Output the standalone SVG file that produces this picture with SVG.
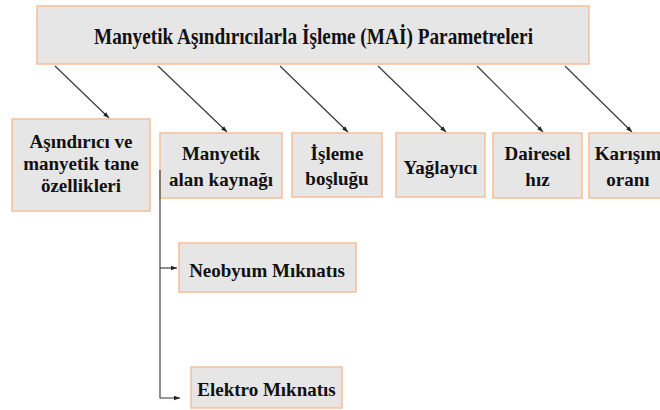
<svg xmlns="http://www.w3.org/2000/svg" width="660" height="410" viewBox="0 0 660 410">
<style>
.box{fill:#e6e6e6;stroke:#f5bf99;stroke-width:1.5}
.t{font-family:'Liberation Serif','DejaVu Serif','Times New Roman',serif;font-weight:700;font-size:19px;fill:#111;text-anchor:middle}
.c{stroke:#333;stroke-width:1.1;fill:none}
</style>
<defs>
<marker id="ah" viewBox="0 0 8 6" refX="8" refY="3" markerWidth="6" markerHeight="5" markerUnits="userSpaceOnUse" orient="auto">
<path d="M0,0 L8,3 L0,6 z" fill="#222"/>
</marker>
</defs>
<rect x="0" y="0" width="660" height="410" fill="#fff"/>
<g id="connectors">
<line class="c" x1="55" y1="66" x2="109" y2="118" marker-end="url(#ah)"/>
<line class="c" x1="158" y1="66" x2="227" y2="132" marker-end="url(#ah)"/>
<line class="c" x1="280" y1="66" x2="348" y2="132" marker-end="url(#ah)"/>
<line class="c" x1="378" y1="66" x2="446" y2="132" marker-end="url(#ah)"/>
<line class="c" x1="477" y1="66" x2="543" y2="132" marker-end="url(#ah)"/>
<line class="c" x1="565" y1="66" x2="632" y2="132" marker-end="url(#ah)"/>
</g>
<g id="root">
<rect class="box" x="37" y="6" width="552" height="58"/>
<text class="t" x="313.5" y="44" font-family="Liberation Serif, serif" style="font-size:23px" textLength="439" lengthAdjust="spacingAndGlyphs">Manyetik Aşındırıcılarla İşleme (MAİ) Parametreleri</text>
</g>
<g id="n1">
<rect class="box" x="12" y="119" width="138" height="92"/>
<text class="t" x="81" y="147.5">Aşındırıcı ve</text>
<text class="t" x="81" y="169.5">manyetik tane</text>
<text class="t" x="81" y="191.5">özellikleri</text>
</g>
<g id="n2">
<rect class="box" x="160" y="133" width="122" height="65"/>
<text class="t" x="221" y="160">Manyetik</text>
<text class="t" x="221" y="186">alan kaynağı</text>
</g>
<g id="n3">
<rect class="box" x="292" y="133" width="90" height="64"/>
<text class="t" x="337" y="160">İşleme</text>
<text class="t" x="337" y="185">boşluğu</text>
</g>
<g id="n4">
<rect class="box" x="396" y="133" width="89" height="64"/>
<text class="t" x="440.5" y="174">Yağlayıcı</text>
</g>
<g id="n5">
<rect class="box" x="493" y="133" width="89" height="65"/>
<text class="t" x="537.5" y="160">Dairesel</text>
<text class="t" x="537.5" y="186">hız</text>
</g>
<g id="n6">
<rect class="box" x="589" y="133" width="80" height="65"/>
<text class="t" x="628" y="160">Karışım</text>
<text class="t" x="628" y="186">oranı</text>
</g>
<g id="subconnectors">
<polyline class="c" points="160,170 160,398 180,398" marker-end="url(#ah)"/>
<line class="c" x1="160" y1="268" x2="177" y2="268" marker-end="url(#ah)"/>
</g>
<g id="n7">
<rect class="box" x="179" y="243" width="177" height="49"/>
<text class="t" x="267" y="276.5">Neobyum Mıknatıs</text>
</g>
<g id="n8">
<rect class="box" x="191" y="367" width="151" height="41"/>
<text class="t" x="266.5" y="396">Elektro Mıknatıs</text>
</g>
</svg>
